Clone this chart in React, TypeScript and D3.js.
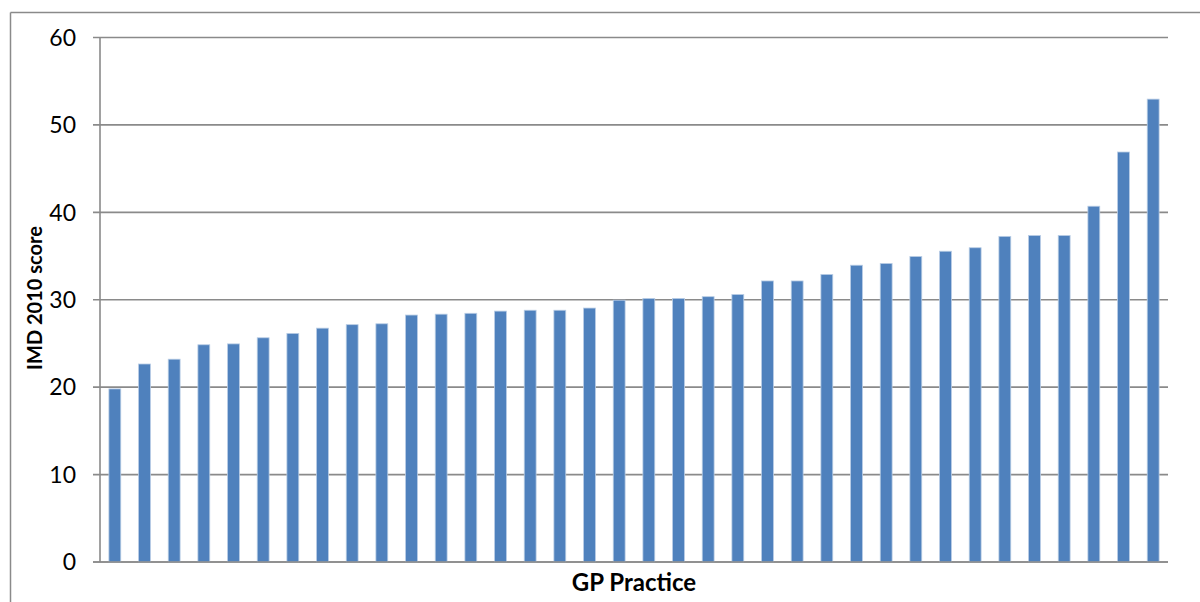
import React from "react";
import * as d3 from "d3";

const practices: string[] = Array.from({ length: 36 }, (_, i) => `P${i + 1}`);
const imdScores: number[] = [
  19.8, 22.65, 23.2, 24.85, 24.95, 25.65, 26.15, 26.75, 27.15, 27.25, 28.25, 28.35,
  28.45, 28.7, 28.8, 28.8, 29.05, 29.95, 30.15, 30.15, 30.35, 30.6, 32.15, 32.15,
  32.9, 33.95, 34.15, 34.95, 35.55, 35.95, 37.25, 37.35, 37.35, 40.7, 46.9, 52.95,
];
const yTicks: number[] = [0, 10, 20, 30, 40, 50, 60];
const yTitle = "IMD 2010 score";
const xTitle = "GP Practice";

export default function App() {
  const W = 1200, H = 602;
  const left = 100, right = 1168, top = 37.5, bottom = 562;
  const x = d3.scaleBand<string>().domain(practices).range([left, right]).paddingInner(0.6).paddingOuter(0.3);
  const y = d3.scaleLinear().domain([0, 60]).range([bottom, top]);
  const font = "Lato, 'Open Sans', sans-serif";
  const grid = "#8a8a8a";
  return (
    <svg width={W} height={H} style={{ position: "absolute", left: 0, top: 0, background: "#fff" }}>
      <rect x={0} y={0} width={W} height={H} fill="#fff" />
      <line x1={10.5} y1={12.5} x2={W} y2={12.5} stroke={grid} strokeWidth={1.5} />
      <line x1={10.5} y1={12.5} x2={10.5} y2={H} stroke={grid} strokeWidth={1.5} />
      {yTicks.map((t) => (
        <g key={t}>
          <line x1={93} x2={right} y1={y(t)} y2={y(t)} stroke={grid} strokeWidth={1.6} />
          <text x={76} y={y(t)} dy="0.36em" textAnchor="end" fontFamily={font} fontSize={23} fill="#000">
            {t}
          </text>
        </g>
      ))}
      <line x1={left} x2={left} y1={top} y2={bottom} stroke={grid} strokeWidth={1.6} />
      {practices.map((p, i) => (
        <rect
          key={p}
          x={x(p)!}
          y={y(imdScores[i])}
          width={x.bandwidth()}
          height={bottom - y(imdScores[i])}
          fill="#4F81BD"
          stroke="#B9CDE5"
          strokeWidth={0.8}
        />
      ))}
      <line x1={93} x2={right} y1={bottom} y2={bottom} stroke={grid} strokeWidth={1.6} />
      <text
        transform={`translate(35, 298) rotate(-90)`}
        textAnchor="middle"
        dy="0.35em"
        fontFamily={font}
        fontWeight="bold"
        fontSize={20}
        fill="#000"
      >
        {yTitle}
      </text>
      <text x={634} y={583} dy="0.35em" textAnchor="middle" fontFamily={font} fontWeight="bold" fontSize={24} fill="#000">
        {xTitle}
      </text>
    </svg>
  );
}
